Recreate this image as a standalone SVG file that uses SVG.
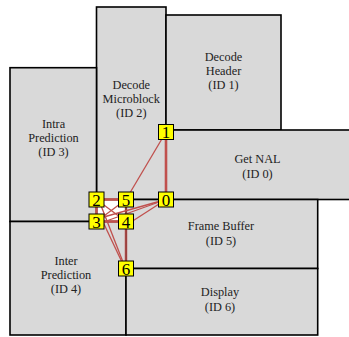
<svg xmlns="http://www.w3.org/2000/svg" width="349" height="337" viewBox="0 0 349 337">
<style>
.box{fill:#d9d9d9;stroke:#000;stroke-width:1.6}
.lbl{font-family:"Liberation Serif","Times New Roman",serif;font-size:12.3px;fill:#222;text-anchor:middle}
.e{stroke:#c0504d;stroke-width:1.3;fill:none}
.t{stroke:#c0504d;stroke-width:2.6;fill:none}
.n rect{fill:#ffff00;stroke:#000;stroke-width:1}
.n text{font-family:"Liberation Serif","Times New Roman",serif;font-size:17px;fill:#000;text-anchor:middle}
</style>
<rect width="349" height="337" fill="#fff"/>
<g id="task-decode-microblock"><rect class="box" x="96.5" y="7" width="69.5" height="192.5"/>
<text class="lbl" x="131.3" y="89">Decode</text><text class="lbl" x="131.3" y="103">Microblock</text><text class="lbl" x="131.3" y="117">(ID 2)</text></g>
<g id="task-decode-header"><rect class="box" x="166" y="15" width="115" height="115"/>
<text class="lbl" x="223.5" y="61">Decode</text><text class="lbl" x="223.5" y="75">Header</text><text class="lbl" x="223.5" y="89">(ID 1)</text></g>
<g id="task-intra"><rect class="box" x="10" y="67.7" width="86.5" height="153.8"/>
<text class="lbl" x="53.5" y="128">Intra</text><text class="lbl" x="53.5" y="142">Prediction</text><text class="lbl" x="53.5" y="156">(ID 3)</text></g>
<g id="task-get-nal"><rect class="box" x="166" y="130" width="190" height="69.5"/>
<text class="lbl" x="257.5" y="163">Get NAL</text><text class="lbl" x="257.5" y="178">(ID 0)</text></g>
<g id="task-frame-buffer"><rect class="box" x="126" y="199.5" width="191.7" height="69"/>
<text class="lbl" x="221" y="230">Frame Buffer</text><text class="lbl" x="221" y="245">(ID 5)</text></g>
<g id="task-inter"><rect class="box" x="10" y="221.5" width="116" height="113.5"/>
<text class="lbl" x="66" y="265">Inter</text><text class="lbl" x="66" y="279">Prediction</text><text class="lbl" x="66" y="293">(ID 4)</text></g>
<g id="task-display"><rect class="box" x="126" y="268.5" width="191.7" height="66.5"/>
<text class="lbl" x="220" y="296">Display</text><text class="lbl" x="220" y="311">(ID 6)</text></g>
<g id="connectors">
<path class="t" d="M166,132V199.5"/>
<path class="t" d="M96.5,199.5H126"/>
<path class="t" d="M96.5,199.5V221.5"/>
<path class="t" d="M96.5,221.5H126"/>
<path class="t" d="M126,199.5V221.5" stroke-opacity="0.6"/>
<path class="t" d="M126,221.5V268.5" stroke-opacity="0.8"/>
<path class="e" d="M166,132L126,199.5"/>
<path class="e" d="M96.5,199.5L126,221.5"/>
<path class="e" d="M126,199.5L96.5,221.5"/>
<path class="e" d="M166,199.5L96.5,219"/>
<path class="e" d="M166,199.5L98,224"/>
<path class="e" d="M166,199.5L128,224"/>
<path class="e" d="M100,203L125.5,268.5"/>
<path class="e" d="M103,222L125,268.5"/>
</g>
<g id="node-0" class="n"><rect x="158.5" y="192" width="15" height="15"/><text x="166" y="205.5">0</text></g>
<g id="node-1" class="n"><rect x="158.5" y="124.5" width="15" height="15"/><text x="166" y="138">1</text></g>
<g id="node-2" class="n"><rect x="89" y="192" width="15" height="15"/><text x="96.5" y="205.5">2</text></g>
<g id="node-3" class="n"><rect x="89" y="214" width="15" height="15"/><text x="96.5" y="227.5">3</text></g>
<g id="node-4" class="n"><rect x="118.5" y="214" width="15" height="15"/><text x="126" y="227.5">4</text></g>
<g id="node-5" class="n"><rect x="118.5" y="192" width="15" height="15"/><text x="126" y="205.5">5</text></g>
<g id="node-6" class="n"><rect x="118.5" y="261" width="15" height="15"/><text x="126" y="274.5">6</text></g>
</svg>
